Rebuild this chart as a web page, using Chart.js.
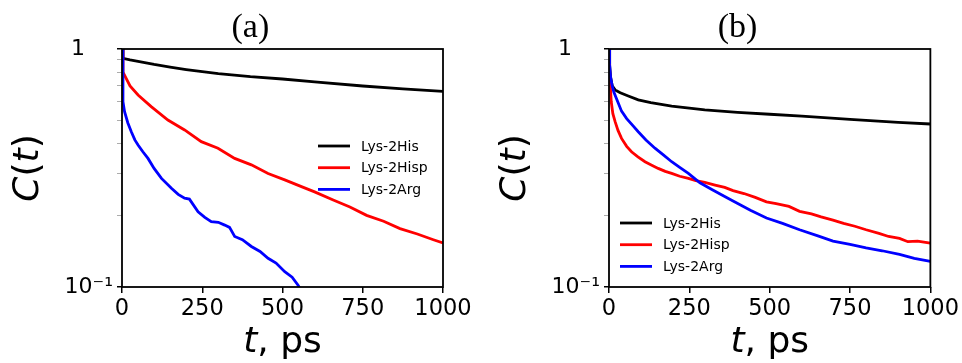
<!DOCTYPE html>
<html>
<head>
<meta charset="utf-8">
<script src="https://cdn.jsdelivr.net/npm/chart.js@4"></script>
<style>
  body { margin: 0; background: #fff; }
  canvas { position: absolute; top: 0; }
  #chartA { left: 0; }
  #chartB { left: 480px; }
</style>
</head>
<body>
<canvas id="chartA" width="480" height="363"></canvas>
<canvas id="chartB" width="482" height="363"></canvas>
<script>
// series labels and colours
const seriesNames = ['Lys-2His', 'Lys-2Hisp', 'Lys-2Arg'];
const seriesColors = ['#000000', '#ff0000', '#0000ff'];

// axis ticks
const xTicks = [0, 250, 500, 750, 1000];
const yTicks = [0.1, 0.2, 0.3, 0.4, 0.5, 0.6, 0.7, 0.8, 0.9, 1];

// panel (a)
const tHisA = [0, 3, 25, 50, 100, 150, 200, 250, 300, 400, 500, 600, 750, 875, 1000];
const cHisA = [1, 0.914, 0.90, 0.888, 0.862, 0.84, 0.82, 0.803, 0.788, 0.765, 0.748, 0.728, 0.699, 0.68, 0.664];
const tHispA = [0, 3, 25, 50, 91, 143, 195, 247, 299, 351, 403, 455, 507, 559, 600, 658, 710, 762, 815, 866, 920, 970, 1000];
const cHispA = [1, 0.80, 0.70, 0.641, 0.573, 0.503, 0.457, 0.408, 0.383, 0.347, 0.326, 0.300, 0.282, 0.264, 0.251, 0.232, 0.217, 0.200, 0.189, 0.176, 0.167, 0.158, 0.153];
const tArgA = [0, 3, 8, 18, 29, 40, 50, 65, 81, 100, 123, 154, 175, 195, 210, 237, 258, 278, 300, 320, 335, 351, 375, 403, 430, 455, 480, 507, 530, 548, 556];
const cArgA = [1, 0.60, 0.545, 0.49, 0.449, 0.415, 0.395, 0.37, 0.347, 0.315, 0.286, 0.260, 0.245, 0.236, 0.234, 0.207, 0.196, 0.188, 0.187, 0.182, 0.178, 0.163, 0.158, 0.148, 0.141, 0.132, 0.126, 0.116, 0.110, 0.102, 0.098];

// panel (b)
const tHisB = [0, 2, 5, 10, 19, 35, 60, 91, 130, 195, 298, 400, 500, 600, 750, 900, 1000];
const cHisB = [1, 0.85, 0.76, 0.70, 0.673, 0.655, 0.635, 0.611, 0.595, 0.575, 0.555, 0.542, 0.532, 0.522, 0.506, 0.492, 0.484];
const tHispB = [0, 2, 4, 7, 12, 19, 28, 39, 55, 70, 90, 112, 133, 153, 175, 195, 220, 247, 270, 298, 330, 360, 386, 420, 455, 490, 520, 560, 593, 630, 660, 697, 730, 765, 800, 840, 870, 904, 930, 960, 1000];
const cHispB = [1, 0.82, 0.70, 0.60, 0.535, 0.495, 0.455, 0.421, 0.39, 0.370, 0.352, 0.336, 0.325, 0.315, 0.306, 0.300, 0.292, 0.286, 0.280, 0.275, 0.268, 0.262, 0.254, 0.247, 0.238, 0.228, 0.224, 0.218, 0.208, 0.203, 0.197, 0.191, 0.185, 0.180, 0.174, 0.168, 0.163, 0.160, 0.155, 0.156, 0.153];
const tArgB = [0, 2, 5, 10, 15, 25, 39, 55, 75, 91, 115, 143, 170, 195, 220, 247, 283, 320, 360, 386, 440, 490, 540, 593, 650, 697, 750, 800, 850, 904, 950, 1000];
const cArgB = [1, 0.86, 0.76, 0.70, 0.66, 0.61, 0.548, 0.51, 0.475, 0.449, 0.415, 0.383, 0.358, 0.336, 0.318, 0.300, 0.274, 0.257, 0.24, 0.23, 0.21, 0.195, 0.185, 0.174, 0.164, 0.156, 0.151, 0.146, 0.142, 0.137, 0.132, 0.128];

Chart.defaults.font.family = '"DejaVu Sans", sans-serif';
Chart.defaults.color = '#000';

function pts(ts, cs) {
  return ts.map((t, i) => ({ x: t, y: cs[i] }));
}

function drawParts(ctx, parts, cx, cy) {
  let total = 0;
  parts.forEach(p => { ctx.font = p[0]; total += ctx.measureText(p[1]).width; });
  let x = cx - total / 2;
  ctx.textAlign = 'left';
  ctx.textBaseline = 'middle';
  parts.forEach(p => {
    ctx.font = p[0];
    ctx.fillText(p[1], x, cy);
    x += ctx.measureText(p[1]).width;
  });
}

const decor = {
  id: 'decor',
  afterDraw(chart, args, opts) {
    const ctx = chart.ctx;
    const a = chart.chartArea;
    ctx.save();
    ctx.strokeStyle = '#000';
    ctx.lineWidth = 1.8;
    ctx.strokeRect(a.left, a.top, a.right - a.left, a.bottom - a.top);

    ctx.fillStyle = '#000';
    ctx.font = '34px "Liberation Serif"';
    ctx.textAlign = 'center';
    ctx.textBaseline = 'middle';
    ctx.fillText(opts.title, a.left + (a.right - a.left) * 0.4, 28);

    const it = 'italic 36px "DejaVu Sans"';
    const up = '36px "DejaVu Sans"';
    drawParts(ctx, [[it, 't'], [up, ', ps']], (a.left + a.right) / 2, 343);

    // legend
    ctx.font = '14px "DejaVu Sans"';
    chart.data.datasets.forEach((ds, i) => {
      const y = opts.legendY + i * 21.7;
      ctx.strokeStyle = ds.borderColor;
      ctx.lineWidth = 2.8;
      ctx.beginPath();
      ctx.moveTo(opts.legendX, y);
      ctx.lineTo(opts.legendX + 32, y);
      ctx.stroke();
      ctx.fillStyle = '#000';
      ctx.textAlign = 'left';
      ctx.textBaseline = 'middle';
      ctx.fillText(ds.label, opts.legendX + 43, y + 1);
    });

    ctx.translate(a.left - 93, (a.top + a.bottom) / 2);
    ctx.rotate(-Math.PI / 2);
    drawParts(ctx, [[it, 'C'], [up, '('], [it, 't'], [up, ')']], 0, 0);
    ctx.restore();
  }
};

function makeChart(id, series, plotLeft, padRight, title, legendX, legendY) {
  return new Chart(document.getElementById(id), {
    type: 'line',
    data: {
      datasets: series.map((s, i) => ({
        label: seriesNames[i],
        data: pts(s[0], s[1]),
        borderColor: seriesColors[i],
        borderWidth: 2.8,
        pointRadius: 0,
        tension: 0,
        order: 3 - i
      }))
    },
    options: {
      responsive: false,
      animation: false,
      devicePixelRatio: 1,
      layout: { padding: { top: 49, right: padRight, left: 0, bottom: 0 } },
      plugins: {
        legend: { display: false },
        tooltip: { enabled: false },
        decor: { title: title, legendX: legendX, legendY: legendY }
      },
      scales: {
        x: {
          type: 'linear',
          min: 0,
          max: 1000,
          afterBuildTicks: scale => { scale.ticks = xTicks.map(v => ({ value: v })); },
          afterFit: scale => { scale.height = 76; },
          ticks: { font: { size: 22.5 }, padding: 3, maxRotation: 0, callback: v => String(v) },
          grid: { drawOnChartArea: false, tickLength: 6, color: '#000', lineWidth: 1.5 },
          border: { display: false }
        },
        y: {
          type: 'logarithmic',
          min: 0.1,
          max: 1,
          afterBuildTicks: scale => { scale.ticks = yTicks.map(v => ({ value: v })); },
          afterFit: scale => { scale.width = plotLeft; },
          ticks: {
            autoSkip: false,
            font: { size: 22 },
            padding: 4,
            callback: v => v === 1 ? '1\u2007\u2007' : (v === 0.1 ? '10\u207B\u00B9' : '')
          },
          grid: {
            drawOnChartArea: false,
            tickLength: 5,
            color: ctx => (ctx.tick && (ctx.tick.value === 1 || ctx.tick.value === 0.1)) ? '#000' : '#888',
            lineWidth: ctx => (ctx.tick && (ctx.tick.value === 1 || ctx.tick.value === 0.1)) ? 1.5 : 0.7
          },
          border: { display: false }
        }
      }
    },
    plugins: [decor]
  });
}

makeChart('chartA', [[tHisA, cHisA], [tHispA, cHispA], [tArgA, cArgA]], 122, 37, '(a)', 318, 146);
makeChart('chartB', [[tHisB, cHisB], [tHispB, cHispB], [tArgB, cArgB]], 129, 31, '(b)', 140, 223);
</script>
</body>
</html>
